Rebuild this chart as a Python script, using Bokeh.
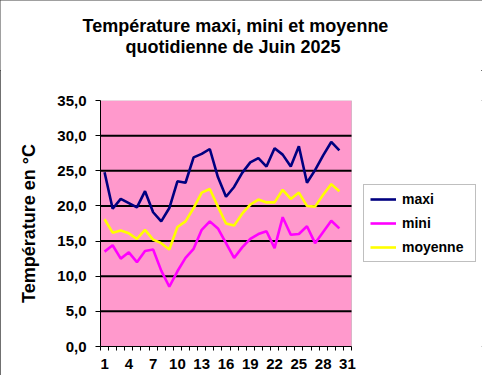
from bokeh.plotting import figure
from bokeh.layouts import column
from bokeh.models import (Range1d, FixedTicker, CustomJSTickFormatter, Legend, LegendItem,
                          Label, BoxAnnotation)
from bokeh.embed import file_html
from bokeh.resources import INLINE

days = list(range(1, 31))
maxi = [24.8, 19.6, 21.0, 20.4, 19.8, 22.1, 19.1, 17.8, 19.7, 23.5,
        23.3, 26.9, 27.4, 28.1, 24.1, 21.3, 22.7, 24.7, 26.2, 26.8,
        25.6, 28.2, 27.3, 25.6, 28.5, 23.3, 25.1, 27.2, 29.1, 27.9]
mini = [13.5, 14.4, 12.5, 13.4, 12.0, 13.6, 13.8, 10.8, 8.5, 10.7,
        12.6, 13.9, 16.6, 17.8, 16.8, 14.7, 12.6, 14.1, 15.3, 16.0,
        16.4, 14.0, 18.4, 15.9, 16.0, 17.1, 14.7, 16.3, 17.9, 16.8]
moyenne = [18.1, 16.2, 16.5, 16.1, 15.3, 16.6, 15.2, 14.7, 13.8, 17.0,
           17.8, 19.7, 21.9, 22.4, 19.9, 17.5, 17.2, 18.9, 20.2, 20.9,
           20.5, 20.5, 22.3, 21.0, 21.9, 20.0, 19.9, 21.6, 23.1, 22.1]
n_cat = 31                      # category slots on the x axis (1..31)
x_labels = [1, 4, 7, 10, 13, 16, 19, 22, 25, 28, 31]
y_ticks = [0, 5, 10, 15, 20, 25, 30, 35]
grid_vals = [5, 10, 15, 20, 25, 30]
y_min, y_max = 0, 35
title1 = "Température maxi, mini et moyenne"
title2 = "quotidienne de Juin  2025"
y_title = "Température en °C"

FONT = "Liberation Sans"
W = 482
T = 70                     # height of the title strip
H = 375 - T
PL, PR, PT, PB = 100, 351, 100, 346   # plot area in page pixels
FRAME_R = W                # frame is extended to the right to hold the legend

# ---------------- title strip ----------------
pt = figure(width=W, height=T, output_backend="svg", toolbar_location=None,
            x_axis_type=None, y_axis_type=None,
            x_range=Range1d(0, 1), y_range=Range1d(0, 1),
            min_border_left=0, min_border_right=0, min_border_top=0, min_border_bottom=0)
pt.outline_line_color = None
pt.background_fill_color = "white"
pt.border_fill_color = "white"
frame_free = "frame_align" in pt.properties()
if frame_free:
    pt.frame_align = False
title_cx = 235 if frame_free else 135
for txt, base in [(title1, 25.5), (title2, 46.5)]:
    pt.add_layout(Label(x=title_cx, y=T - base, x_units="screen", y_units="screen",
                        text=txt, text_align="center", text_baseline="alphabetic",
                        text_font=FONT, text_font_style="bold",
                        text_font_size="18px", text_color="black"))

# ---------------- main chart ----------------
x0 = 0.5
x1 = n_cat + 0.5
x_end = x0 + (x1 - x0) * (FRAME_R - PL) / (PR - PL)

p = figure(width=W, height=H, output_backend="svg", toolbar_location=None,
           x_range=Range1d(x0, x_end), y_range=Range1d(y_min, y_max),
           min_border_left=PL, min_border_right=W - FRAME_R,
           min_border_top=PT - T, min_border_bottom=375 - PB)
if frame_free:
    p.frame_align = False
p.background_fill_color = "white"
p.border_fill_color = "white"
p.outline_line_color = None
p.xgrid.visible = False
p.ygrid.visible = False

p.add_layout(BoxAnnotation(left=x0, right=x1, bottom=y_min, top=y_max,
                           fill_color="#FF99CC", fill_alpha=1,
                           line_color="#808080", line_width=1, level="underlay"))

p.segment(x0=[x0] * len(grid_vals), x1=[x1] * len(grid_vals), y0=grid_vals, y1=grid_vals,
          line_color="black", line_width=2)

# x axis
p.xaxis.bounds = (x0, x1)
p.xaxis.ticker = FixedTicker(ticks=x_labels, minor_ticks=[d + 0.5 for d in range(0, n_cat + 1)])
p.xaxis.major_tick_out = 0
p.xaxis.major_tick_in = 0
p.xaxis.minor_tick_out = 4
p.xaxis.minor_tick_in = 0
p.xaxis.minor_tick_line_color = "black"
p.xaxis.axis_line_color = "black"
p.xaxis.major_label_text_font = FONT
p.xaxis.major_label_text_font_style = "bold"
p.xaxis.major_label_text_font_size = "15px"
p.xaxis.major_label_text_color = "black"
p.xaxis.major_label_standoff = 8

# y axis
p.yaxis.ticker = FixedTicker(ticks=y_ticks)
p.yaxis.formatter = CustomJSTickFormatter(code="return tick.toFixed(1).replace('.', ',');")
p.yaxis.major_tick_out = 5
p.yaxis.major_tick_in = 0
p.yaxis.minor_tick_line_color = None
p.yaxis.axis_line_color = "black"
p.yaxis.major_tick_line_color = "black"
p.yaxis.major_label_text_font = FONT
p.yaxis.major_label_text_font_style = "bold"
p.yaxis.major_label_text_font_size = "15px"
p.yaxis.major_label_text_color = "black"
p.yaxis.major_label_standoff = 9
p.yaxis.axis_label = y_title
p.yaxis.axis_label_text_font = FONT
p.yaxis.axis_label_text_font_style = "bold"
p.yaxis.axis_label_text_font_size = "18px"
p.yaxis.axis_label_text_color = "black"
p.yaxis.axis_label_standoff = 15

r1 = p.line(days, maxi, line_color="#000080", line_width=2.6)
r2 = p.line(days, mini, line_color="#FF00FF", line_width=2.6)
r3 = p.line(days, moyenne, line_color="#FFFF00", line_width=2.6)

legend = Legend(items=[LegendItem(label="maxi", renderers=[r1]),
                       LegendItem(label="mini", renderers=[r2]),
                       LegendItem(label="moyenne", renderers=[r3])],
                location=(263, 84), orientation="vertical",
                padding=6, margin=0, spacing=8,
                glyph_width=26, glyph_height=16, label_height=16, label_width=67,
                label_standoff=6, label_text_font=FONT,
                label_text_font_style="bold", label_text_font_size="14px",
                label_text_color="black",
                border_line_color="#808080", border_line_width=1,
                background_fill_color="white", background_fill_alpha=1)
p.add_layout(legend)

layout = column(pt, p, spacing=0)
layout.styles = {"outline": "1px solid #404040", "outline-offset": "-1px"}
open("out.html", "w").write(file_html(layout, INLINE))
